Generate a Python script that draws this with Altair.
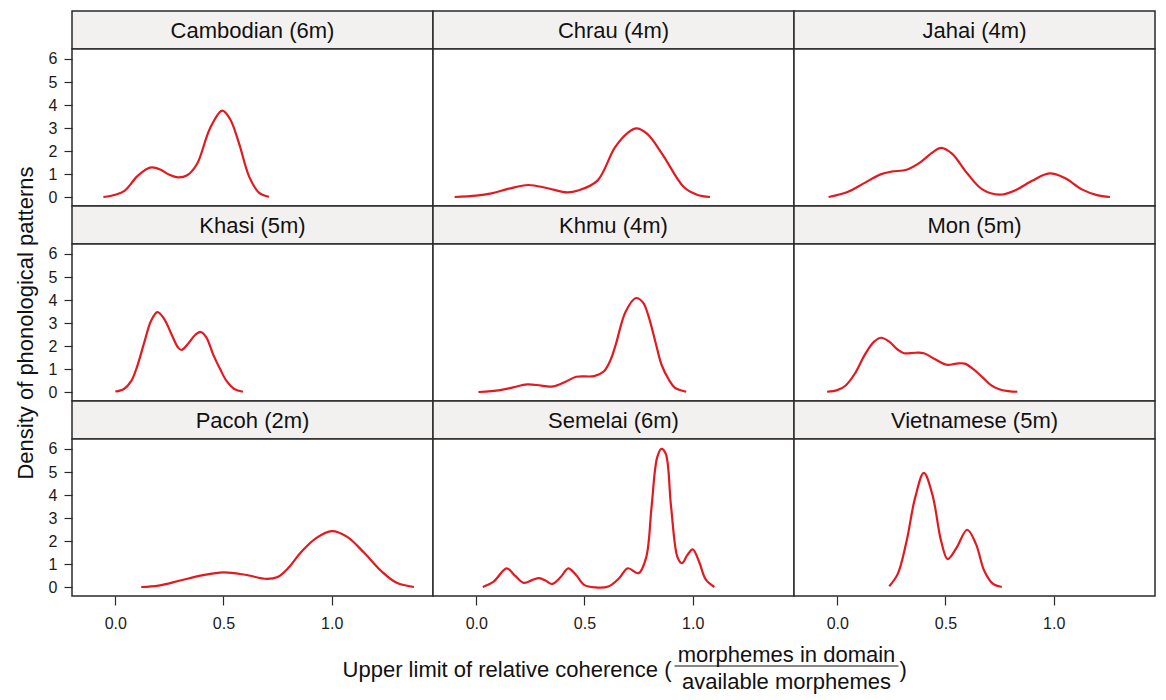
import altair as alt
import pandas as pd

# ---- data ----
panel_titles = ["Cambodian (6m)", "Chrau (4m)", "Jahai (4m)",
                "Khasi (5m)", "Khmu (4m)", "Mon (5m)",
                "Pacoh (2m)", "Semelai (6m)", "Vietnamese (5m)"]

cambodian_x = [-0.055, 0.0, 0.044, 0.1, 0.15, 0.17, 0.21, 0.25, 0.29, 0.33, 0.377, 0.438, 0.494, 0.53, 0.57, 0.62, 0.665, 0.71]
cambodian_y = [0.02, 0.12, 0.3, 0.9, 1.25, 1.3, 1.2, 0.98, 0.87, 0.95, 1.44, 3.0, 3.76, 3.4, 2.4, 0.87, 0.2, 0.03]

chrau_x = [-0.1, 0.0, 0.07, 0.15, 0.24, 0.33, 0.42, 0.47, 0.56, 0.64, 0.7, 0.74, 0.79, 0.86, 0.96, 1.02, 1.08]
chrau_y = [0.02, 0.08, 0.18, 0.38, 0.54, 0.4, 0.22, 0.3, 0.73, 2.16, 2.8, 2.99, 2.75, 1.87, 0.44, 0.12, 0.02]

jahai_x = [-0.04, 0.05, 0.12, 0.2, 0.25, 0.32, 0.38, 0.44, 0.48, 0.53, 0.6, 0.67, 0.75, 0.82, 0.9, 0.98, 1.05, 1.13, 1.2, 1.26]
jahai_y = [0.02, 0.25, 0.6, 1.0, 1.12, 1.2, 1.5, 1.95, 2.15, 1.9, 1.05, 0.35, 0.12, 0.3, 0.72, 1.04, 0.85, 0.35, 0.1, 0.02]

khasi_x = [0.0, 0.04, 0.074, 0.1, 0.135, 0.165, 0.195, 0.225, 0.256, 0.29, 0.306, 0.34, 0.37, 0.395, 0.42, 0.453, 0.485, 0.514, 0.55, 0.59]
khasi_y = [0.04, 0.15, 0.5, 1.1, 2.2, 3.1, 3.48, 3.2, 2.6, 1.95, 1.84, 2.15, 2.5, 2.62, 2.4, 1.63, 1.0, 0.5, 0.15, 0.03]

khmu_x = [0.01, 0.11, 0.17, 0.235, 0.3, 0.356, 0.41, 0.462, 0.545, 0.59, 0.62, 0.644, 0.69, 0.738, 0.77, 0.795, 0.83, 0.856, 0.89, 0.917, 0.97]
khmu_y = [0.02, 0.1, 0.22, 0.35, 0.3, 0.26, 0.45, 0.68, 0.71, 0.92, 1.4, 2.06, 3.5, 4.09, 3.9, 3.33, 2.1, 1.2, 0.55, 0.21, 0.03]

mon_x = [-0.047, 0.0, 0.036, 0.08, 0.127, 0.17, 0.203, 0.24, 0.28, 0.309, 0.36, 0.4, 0.45, 0.506, 0.55, 0.589, 0.63, 0.673, 0.71, 0.748, 0.79, 0.832]
mon_y = [0.03, 0.1, 0.28, 0.8, 1.63, 2.2, 2.37, 2.2, 1.85, 1.7, 1.72, 1.7, 1.45, 1.2, 1.25, 1.25, 1.0, 0.64, 0.32, 0.14, 0.06, 0.03]

pacoh_x = [0.12, 0.2, 0.3, 0.4, 0.5, 0.6, 0.7, 0.75, 0.8, 0.86, 0.93, 1.0, 1.07, 1.15, 1.23, 1.3, 1.38]
pacoh_y = [0.02, 0.08, 0.3, 0.52, 0.65, 0.55, 0.37, 0.45, 0.85, 1.55, 2.15, 2.44, 2.2, 1.5, 0.7, 0.2, 0.02]

semelai_x = [0.03, 0.08, 0.14, 0.18, 0.22, 0.26, 0.29, 0.32, 0.35, 0.39, 0.425, 0.46, 0.5, 0.55, 0.61, 0.66, 0.7, 0.75, 0.785, 0.81, 0.835, 0.855, 0.875, 0.9, 0.93, 0.95, 0.975, 1.0, 1.03, 1.06, 1.1]
semelai_y = [0.02, 0.25, 0.83, 0.5, 0.2, 0.33, 0.4, 0.3, 0.15, 0.45, 0.83, 0.55, 0.1, 0.0, 0.04, 0.4, 0.83, 0.62, 1.3, 3.5, 5.6, 6.0, 5.8, 3.5, 1.3, 1.05, 1.4, 1.65, 1.1, 0.35, 0.02]

vietnamese_x = [0.24, 0.28, 0.32, 0.36, 0.4, 0.44, 0.48, 0.51, 0.55, 0.6, 0.64, 0.68, 0.72, 0.76]
vietnamese_y = [0.05, 0.6, 2.0, 3.9, 4.96, 4.0, 2.0, 1.23, 1.7, 2.5, 1.9, 0.7, 0.15, 0.02]

x_tick_values = [0.0, 0.5, 1.0]
y_tick_values = [0, 1, 2, 3, 4, 5, 6]
y_title = "Density of phonological patterns"
x_title_main = "Upper limit of relative coherence ("
x_title_num = "morphemes in domain"
x_title_den = "available morphemes"
x_title_close = ")"

series = [
    (cambodian_x, cambodian_y), (chrau_x, chrau_y), (jahai_x, jahai_y),
    (khasi_x, khasi_y), (khmu_x, khmu_y), (mon_x, mon_y),
    (pacoh_x, pacoh_y), (semelai_x, semelai_y), (vietnamese_x, vietnamese_y),
]

# ---- layout / style ----
W, HS, HP = 361, 38, 157
XDOM = [-0.2, 1.468]
YDOM = [-0.37, 6.43]
BORDER = "#2a2a2a"
RED = "#e3191f"
STRIP_FILL = "#f3f1ef"
FONT = "Liberation Sans"
TXT = "#111111"
FS = 22


def strip(title):
    return alt.Chart(pd.DataFrame({"label": [title]})).mark_text(
        fontSize=FS, color=TXT
    ).encode(
        text="label:N", x=alt.value(W / 2), y=alt.value(HS / 2 + 1)
    ).properties(
        width=W, height=HS,
        view=alt.ViewBackground(fill=STRIP_FILL, stroke=BORDER, strokeWidth=1.5),
    )


def plot(i):
    r, c = divmod(i, 3)
    xs, ys = series[i]
    df = pd.DataFrame({"x": xs, "y": ys})
    if r == 2:
        xaxis = alt.Axis(values=x_tick_values, format=".1f", tickSize=9, labelPadding=10,
                         domain=False, grid=False, labelFontSize=16,
                         labelFontWeight="normal", title=None)
    else:
        xaxis = None
    if c == 0:
        yaxis = alt.Axis(values=y_tick_values, format="d", tickSize=8, labelPadding=7,
                         domain=False, grid=False, labelFontSize=16,
                         labelFontWeight="normal",
                         title=y_title if r == 1 else None,
                         titleFontSize=FS, titlePadding=11, titleFontWeight="normal")
    else:
        yaxis = None
    line = alt.Chart(df).mark_line(color=RED, strokeWidth=2.2, interpolate="catmull-rom").encode(
        x=alt.X("x:Q", scale=alt.Scale(domain=XDOM, nice=False, zero=False), axis=xaxis),
        y=alt.Y("y:Q", scale=alt.Scale(domain=YDOM, nice=False, zero=False), axis=yaxis),
    )
    layers = [line]
    if r == 2 and c == 1:
        cx = W / 2
        main = alt.Chart(pd.DataFrame({"t": [x_title_main]})).mark_text(
            fontSize=FS, align="right", color=TXT).encode(
            text="t:N", x=alt.value(cx + 58), y=alt.value(HP + 74))
        num = alt.Chart(pd.DataFrame({"t": [x_title_num]})).mark_text(
            fontSize=FS, align="center", color=TXT).encode(
            text="t:N", x=alt.value(cx + 173), y=alt.value(HP + 59))
        den = alt.Chart(pd.DataFrame({"t": [x_title_den]})).mark_text(
            fontSize=FS, align="center", color=TXT).encode(
            text="t:N", x=alt.value(cx + 173), y=alt.value(HP + 86))
        bar = alt.Chart(pd.DataFrame({"t": [x_title_num]})).mark_rule(
            color=TXT, strokeWidth=1.2).encode(
            x=alt.value(cx + 61), x2=alt.value(cx + 285), y=alt.value(HP + 70))
        close = alt.Chart(pd.DataFrame({"t": [x_title_close]})).mark_text(
            fontSize=FS, align="left", color=TXT).encode(
            text="t:N", x=alt.value(cx + 286), y=alt.value(HP + 74))
        layers += [main, num, bar, den, close]
    return alt.layer(*layers).properties(
        width=W, height=HP,
        view=alt.ViewBackground(fill="white", stroke=BORDER, strokeWidth=1.5),
    )


cells = []
for r in range(3):
    for c in range(3):
        cells.append(strip(panel_titles[r * 3 + c]))
    for c in range(3):
        cells.append(plot(r * 3 + c))

chart = alt.concat(*cells, columns=3, spacing=0, bounds="flush").properties(
    padding={"left": 5, "top": 2, "right": 0, "bottom": 0}
).configure(
    font=FONT
).configure_axis(
    labelColor="#1a1a1a", tickColor=BORDER, tickWidth=1.2,
    titleColor=TXT, labelFont=FONT, titleFont=FONT
)

chart.save("out.html", embed_options={"renderer": "svg", "actions": False})
